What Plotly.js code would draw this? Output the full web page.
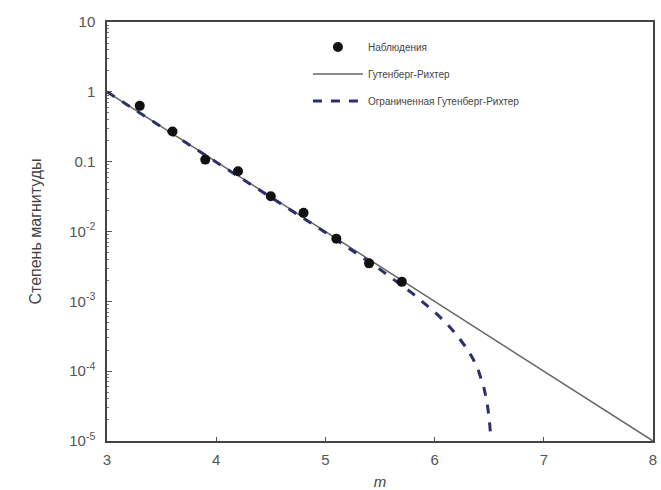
<!DOCTYPE html>
<html><head><meta charset="utf-8">
<script src="https://cdn.plot.ly/plotly-3.0.1.min.js"></script>
<style>body{margin:0;background:#fff}#chart{width:661px;height:490px}</style>
</head><body><div id="chart"></div>
<script>
// Observations
var obsM = [3.3, 3.6, 3.9, 4.2, 4.5, 4.8, 5.1, 5.4, 5.7];
var obsN = [0.63, 0.27, 0.107, 0.073, 0.032, 0.0185, 0.0079, 0.0035, 0.0019];
// Gutenberg-Richter line
var grM = [3, 8];
var grN = [1, 1e-5];
// Truncated Gutenberg-Richter
var tgrM = [3, 3.5, 4, 4.5, 5, 5.5, 5.8, 6.0, 6.1, 6.2, 6.3, 6.35, 6.4, 6.45, 6.48, 6.5, 6.515];
var tgrN = [1, 0.316, 0.0997, 0.0313, 0.0097, 0.00287, 0.00129, 0.000705, 0.000499, 0.000336, 0.000206, 0.000152, 0.000103, 0.00006, 0.000036, 0.000021, 0.000011];
// Tick labels
var yTickVals = [10, 1, 0.1, 0.01, 0.001, 0.0001, 0.00001];
var yTickText = ['10', '1', '0.1', '10<sup>-2</sup>', '10<sup>-3</sup>', '10<sup>-4</sup>', '10<sup>-5</sup>'];
var xTickVals = [3, 4, 5, 6, 7, 8];
var legendNames = ['Наблюдения', 'Гутенберг-Рихтер', 'Ограниченная Гутенберг-Рихтер'];

var traces = [
  {x: grM, y: grN, mode: 'lines', type: 'scatter', name: legendNames[1],
   legendrank: 2, legendgroup: 'b',
   line: {color: '#666', width: 1.5}},
  {x: tgrM, y: tgrN, mode: 'lines', type: 'scatter', name: legendNames[2],
   legendrank: 3, legendgroup: 'c',
   line: {color: '#2b2f6b', width: 3, dash: 'dash'}},
  {x: obsM, y: obsN, mode: 'markers', type: 'scatter', name: legendNames[0],
   legendrank: 1, legendgroup: 'a',
   marker: {color: '#111', size: 10}}
];

var layout = {
  width: 661, height: 490,
  margin: {l: 107, r: 8, t: 22, b: 49},
  paper_bgcolor: '#fff', plot_bgcolor: '#fff',
  font: {family: 'Liberation Sans, Arial, sans-serif', color: '#555'},
  showlegend: true,
  legend: {x: 0.368, y: 0.975, xanchor: 'left', yanchor: 'top', bgcolor: 'rgba(0,0,0,0)',
           font: {size: 10, color: '#444'}, traceorder: 'grouped', tracegroupgap: 8, itemwidth: 50},
  xaxis: {range: [3, 8], tickvals: xTickVals, ticks: 'inside', ticklen: 4, tickcolor: '#555',
          showline: true, mirror: true, linecolor: '#444', linewidth: 1.5, ticklabelstandoff: 4,
          showgrid: false, zeroline: false, tickfont: {size: 15, color: '#555'},
          title: {text: '<i>m</i>', font: {size: 15, color: '#444'}, standoff: 16}},
  yaxis: {type: 'log', range: [-5, 1], tickvals: yTickVals, ticktext: yTickText,
          ticks: 'inside', ticklen: 5, tickcolor: '#555', ticklabelstandoff: 7,
          minor: {dtick: 'D1', ticks: 'inside', ticklen: 2, tickcolor: '#777', showgrid: false},
          showline: true, mirror: true, linecolor: '#444', linewidth: 1.5,
          showgrid: false, zeroline: false, tickfont: {size: 15, color: '#555'},
          title: {text: 'Степень магнитуды', font: {size: 16, color: '#444'}, standoff: 24}}
};
Plotly.newPlot('chart', traces, layout, {displayModeBar: false});
</script></body></html>
